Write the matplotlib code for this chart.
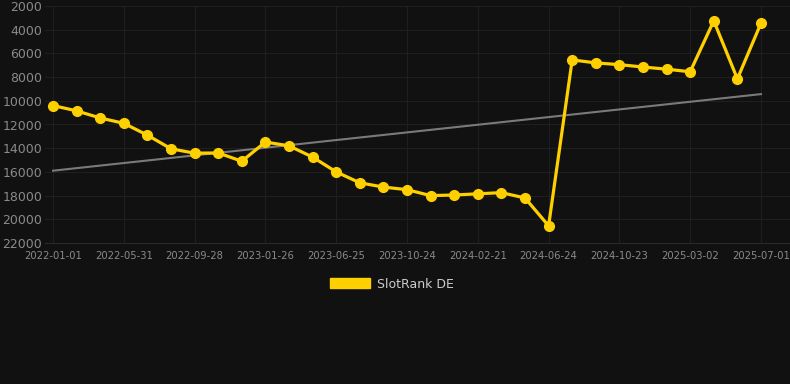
"""SlotRank DE chart."""
import numpy as np
import matplotlib.pyplot as plt
from matplotlib.patches import Patch

tick_labels = ["2022-01-01", "2022-05-31", "2022-09-28", "2023-01-26",
               "2023-06-25", "2023-10-24", "2024-02-21", "2024-06-24",
               "2024-10-23", "2025-03-02", "2025-07-01"]
rank = [10400, 10850, 11450, 11900, 12900, 14050, 14420, 14400, 15100,
        13480, 13800, 14750, 16000, 16920, 17280, 17500, 18000, 17950,
        17850, 17750, 18200, 20550, 6550, 6800, 6950, 7150, 7330, 7550,
        3250, 8150, 3450]

BG = "#111111"
GOLD = "#FFD000"
TXT = "#8a8a8a"

x = np.arange(len(rank))
fit = np.polyfit(x, rank, 1)
trend = np.polyval(fit, x)

fig = plt.figure(figsize=(7.9, 3.84), dpi=100, facecolor=BG)
ax = fig.add_axes([45 / 790, 1 - 243 / 384, 745 / 790, 237 / 384])
ax.set_facecolor(BG)

ax.plot(x, trend, color="#7a7a7a", lw=1.5, zorder=2)
ax.plot(x, rank, color=GOLD, lw=2.3, marker="o", ms=7, zorder=3)

ax.set_xlim(-0.34, 31.23)
ax.set_ylim(22000, 2000)
ax.set_yticks(np.arange(2000, 22001, 2000))
ax.set_xticks(x[::3])
ax.set_xticklabels(tick_labels)
ax.grid(True, color="#1f1f1f", lw=0.8)
ax.tick_params(axis="y", colors=TXT, labelsize=9, length=0, pad=2)
ax.tick_params(axis="x", colors=TXT, labelsize=7.2, length=0, pad=6)
for s in ax.spines.values():
    s.set_visible(False)
ax.spines["bottom"].set_visible(True)
ax.spines["bottom"].set_color("#2a2a2a")

handle = Patch(facecolor=GOLD, edgecolor=GOLD)
fig.legend([handle], ["SlotRank DE"], loc="center", bbox_to_anchor=(392 / 790, 1 - 284 / 384),
           frameon=False, labelcolor="#cccccc", fontsize=9, handlelength=3.2, handleheight=0.9,
           handletextpad=0.5)

fig.savefig("out.png", dpi=100, facecolor=BG)
